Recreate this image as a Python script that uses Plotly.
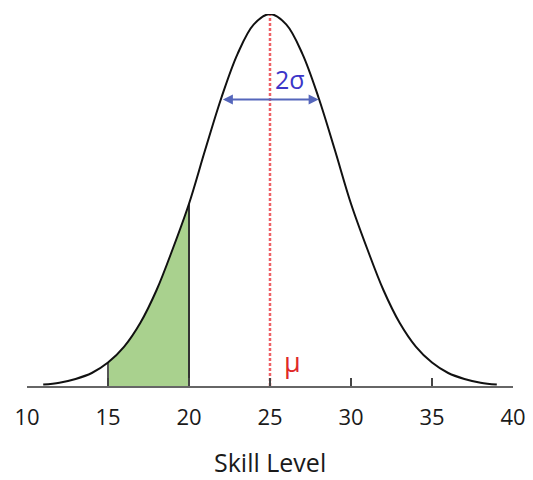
import plotly.graph_objects as go

# Skill level (x) and relative density (peak = 1)
skill = [11, 12, 13, 14, 15, 16, 17, 18, 19, 20, 21, 22, 23, 24, 25,
         26, 27, 28, 29, 30, 31, 32, 33, 34, 35, 36, 37, 38, 39]
density = [0.004, 0.009, 0.019, 0.035, 0.063, 0.106, 0.170, 0.258, 0.369, 0.490,
           0.635, 0.775, 0.893, 0.972, 1.000,
           0.972, 0.893, 0.775, 0.635, 0.490, 0.369, 0.258, 0.170, 0.106, 0.063,
           0.035, 0.019, 0.009, 0.004]

shade_from, shade_to = 15, 20
mean_value = 25
sigma_left, sigma_right = 22, 28
tick_vals = [10, 15, 20, 25, 30, 35, 40]
tick_text = ["10", "15", "20", "25", "30", "35", "40"]
x_title = "Skill Level"

shade_x = [x for x in skill if shade_from <= x <= shade_to]
shade_y = [d for x, d in zip(skill, density) if shade_from <= x <= shade_to]
lookup = dict(zip(skill, density))

fig = go.Figure()

# shaded area
fig.add_trace(go.Scatter(x=shade_x, y=shade_y, mode="lines", line=dict(width=0, shape="spline"),
                         fill="tozeroy", fillcolor="#a9d18e", hoverinfo="skip", showlegend=False))
# boundary lines of shaded region
fig.add_trace(go.Scatter(x=[shade_from, shade_from], y=[0, lookup[shade_from]], mode="lines",
                         line=dict(color="#555555", width=2), showlegend=False))
fig.add_trace(go.Scatter(x=[shade_to, shade_to], y=[0, lookup[shade_to]], mode="lines",
                         line=dict(color="#333333", width=2), showlegend=False))
# mean dashed line
fig.add_trace(go.Scatter(x=[mean_value, mean_value], y=[0, max(density)], mode="lines",
                         line=dict(color="#ee6066", width=2.5, dash="3px,2px"), showlegend=False))
# curve
fig.add_trace(go.Scatter(x=skill, y=density, mode="lines",
                         line=dict(color="#111111", width=2, shape="spline"), showlegend=False))

# 2-sigma arrow
fig.add_annotation(x=sigma_right, y=0.77, ax=sigma_left, ay=0.77,
                   xref="x", yref="y", axref="x", ayref="y", text="", showarrow=True,
                   arrowhead=2, startarrowhead=2, arrowside="end+start", arrowsize=1,
                   arrowwidth=2, arrowcolor="#5566bb")
fig.add_annotation(x=26.25, y=0.825, xref="x", yref="y", text="2σ", showarrow=False,
                   font=dict(size=25, color="#3b35c8", family="Open Sans"))
fig.add_annotation(x=26.4, y=0.065, xref="x", yref="y", text="μ", showarrow=False,
                   font=dict(size=27, color="#e02828", family="Open Sans"))
# axis title
fig.add_annotation(x=0.5, y=-0.204, xref="paper", yref="paper", text=x_title, showarrow=False,
                   yanchor="middle", borderpad=0,
                   font=dict(size=25, color="#1a1a1a", family="Open Sans"))

# The page body adds an 8px offset, so the figure is sized to fit inside the window.
fig.update_layout(
    width=525, height=472,
    margin=dict(l=19, r=20, t=6, b=94, autoexpand=False),
    plot_bgcolor="white", paper_bgcolor="white",
    xaxis=dict(range=[10, 40], tickvals=tick_vals, ticktext=tick_text, showgrid=False,
               zeroline=False, showline=True, linecolor="#666666", linewidth=2,
               ticks="inside", ticklen=8, tickwidth=2, tickcolor="#444444",
               automargin=False, ticklabelstandoff=11, ticklabeloverflow="allow",
               tickfont=dict(size=22, color="#1a1a1a", family="Open Sans")),
    yaxis=dict(range=[0, 1.0], visible=False, showgrid=False, zeroline=False, automargin=False),
)

fig.write_html("out.html")
